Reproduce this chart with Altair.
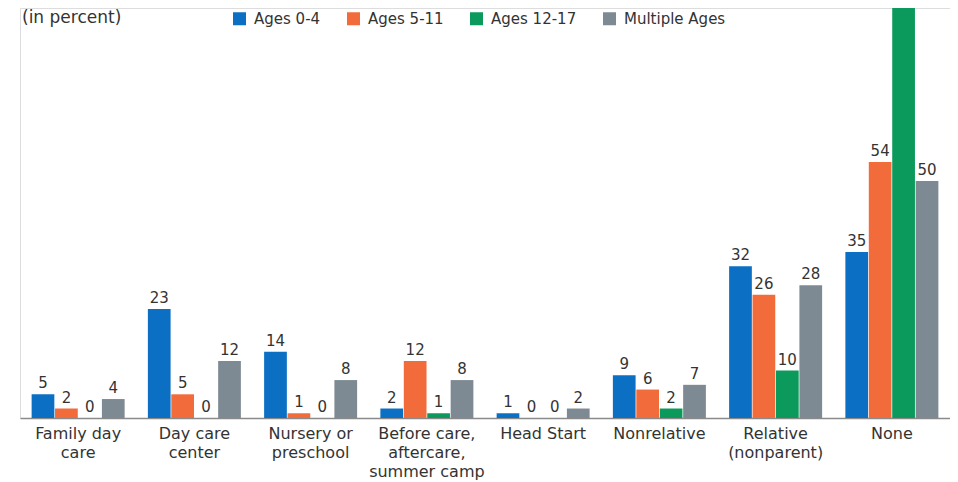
import altair as alt
import pandas as pd

categories = [
    "Family day\ncare",
    "Day care\ncenter",
    "Nursery or\npreschool",
    "Before care,\naftercare,\nsummer camp",
    "Head Start",
    "Nonrelative",
    "Relative\n(nonparent)",
    "None",
]
series = ["Ages 0-4", "Ages 5-11", "Ages 12-17", "Multiple Ages"]
ages_0_4 = [5, 23, 14, 2, 1, 9, 32, 35]
ages_5_11 = [2, 5, 1, 12, 0, 6, 26, 54]
ages_12_17 = [0, 0, 0, 1, 0, 2, 10, 88]
multiple = [4, 12, 8, 8, 2, 7, 28, 50]
colors = ["#0b6fc3", "#f26b3b", "#0b9a5b", "#7d8a93"]

rows = []
for name, vals in zip(series, [ages_0_4, ages_5_11, ages_12_17, multiple]):
    for c, v in zip(categories, vals):
        rows.append({"category": c, "series": name, "value": v})
df = pd.DataFrame(rows)

FONT = "DejaVu Sans"
TXT = "#333333"
YMAX = 86.5

x_enc = alt.X(
    "category:N",
    sort=categories,
    scale=alt.Scale(paddingInner=0.2, paddingOuter=0.1),
    axis=alt.Axis(
        title=None,
        labelAngle=0,
        ticks=False,
        grid=False,
        domainColor="#8a8a8a",
        domainWidth=1.5,
        labelFont=FONT,
        labelFontSize=16,
        labelColor=TXT,
        labelPadding=7,
        labelLineHeight=19,
        labelExpr="split(datum.label, '\\n')",
    ),
)
xoff = alt.XOffset("series:N", sort=series, scale=alt.Scale(paddingInner=0.03))
y_enc = alt.Y("value:Q", scale=alt.Scale(domain=[0, YMAX], nice=False), axis=None)

bars = alt.Chart(df).mark_bar(clip=True).encode(
    x=x_enc,
    xOffset=xoff,
    y=y_enc,
    color=alt.Color(
        "series:N",
        sort=series,
        scale=alt.Scale(domain=series, range=colors),
        legend=alt.Legend(
            title=None,
            orient="none",
            direction="horizontal",
            legendX=212,
            legendY=3,
            padding=0,
            symbolType="square",
            symbolSize=169,
            symbolStrokeWidth=0,
            labelFont=FONT,
            labelFontSize=15,
            labelColor=TXT,
            columnPadding=25,
            labelOffset=7,
        ),
    ),
)

labels = alt.Chart(df).transform_filter(
    f"datum.value < {YMAX}"
).mark_text(
    clip=True, baseline="bottom", dy=-3, font=FONT, fontSize=15, color=TXT
).encode(
    x=alt.X("category:N", sort=categories),
    xOffset=alt.XOffset("series:N", sort=series),
    y=alt.Y("value:Q"),
    text=alt.Text("value:Q"),
)

title_txt = alt.Chart(pd.DataFrame({"t": ["(in percent)"]})).mark_text(
    align="left", baseline="top", font=FONT, fontSize=17, color=TXT
).encode(x=alt.value(2), y=alt.value(2), text="t:N")

chart = (
    alt.layer(bars, labels, title_txt)
    .properties(
        width=930,
        height=410,
        autosize=alt.AutoSizeParams(type="none"),
        padding={"left": 12, "top": 0, "right": 0, "bottom": 64},
    )
    .configure_view(stroke=None)
    .configure(background="white")
)

chart.save("out.html", embed_options={"renderer": "svg", "actions": False})
